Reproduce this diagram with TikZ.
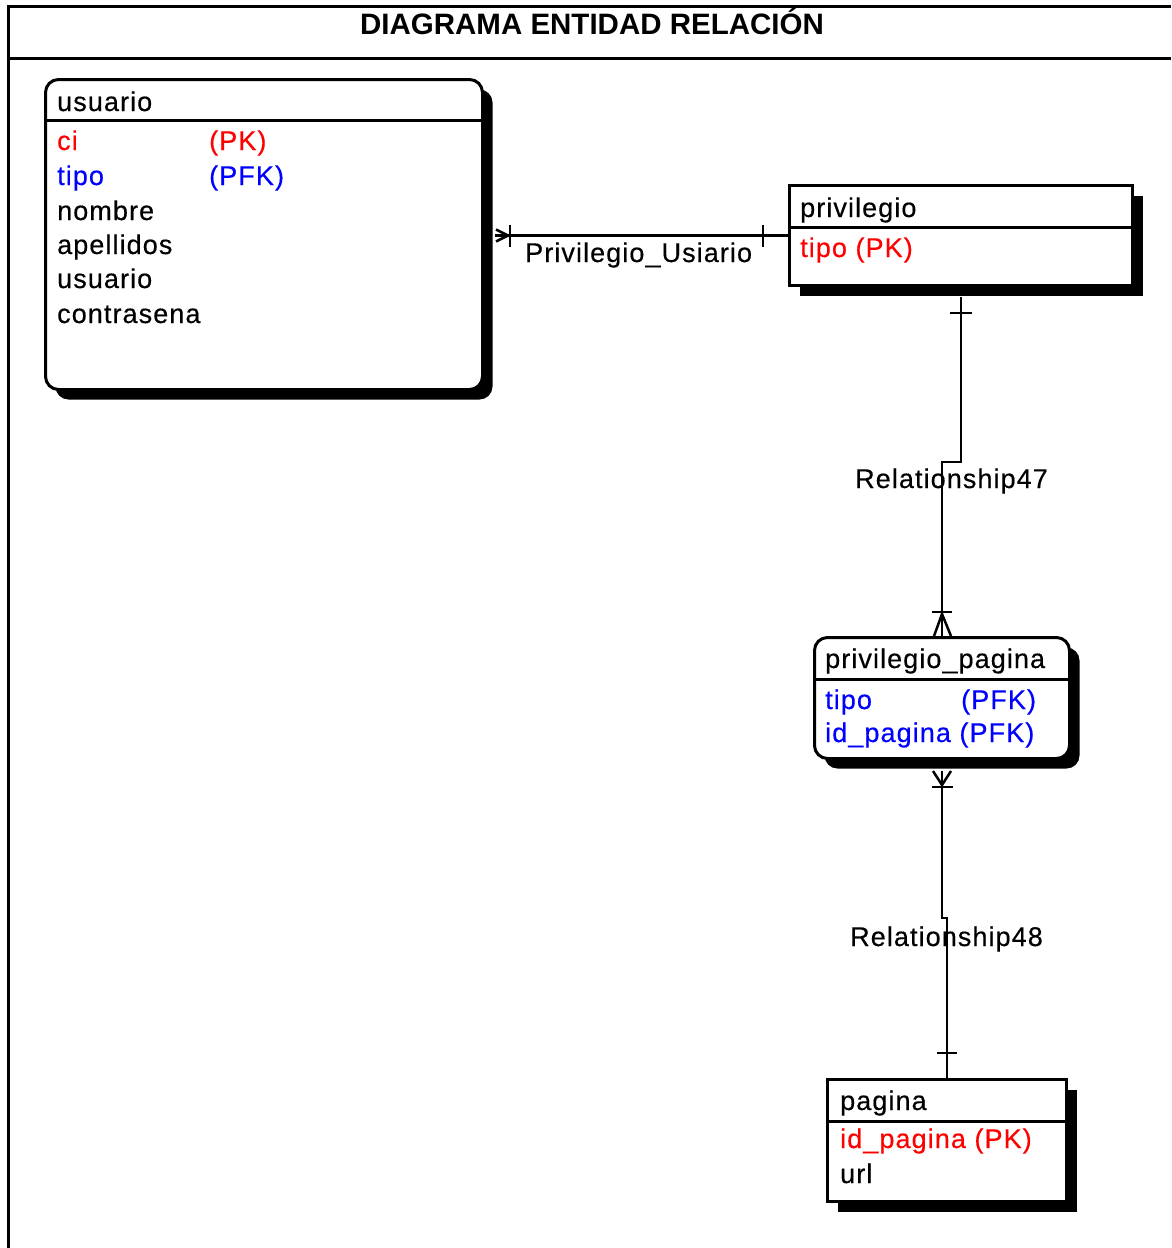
\documentclass[tikz,border=0pt]{standalone}
\usepackage{fontspec}
\setmainfont{Liberation Sans}
\newfontfamily\erfont[LetterSpace=4,FakeBold=0.4]{Liberation Sans}
\usetikzlibrary{calc,shadows}
\definecolor{pkred}{RGB}{255,0,0}
\definecolor{fkblue}{RGB}{0,0,255}
\begin{document}
\begin{tikzpicture}[x=1pt,y=-1pt,
  entity/.style={draw, line width=3pt, fill=white, inner sep=0pt, anchor=north west,
    drop shadow={shadow xshift=10pt, shadow yshift=-10pt, fill=black, opacity=1}},
  roundentity/.style={entity, rounded corners=13pt},
  sep/.style={line width=3pt},
  attr/.style={anchor=base west, inner sep=0pt, font=\erfont\fontsize{27}{32}\selectfont},
  pk/.style={attr, text=pkred},
  fk/.style={attr, text=fkblue},
  rel/.style={line width=2.5pt},
  frame/.style={line width=3pt}]
\useasboundingbox (0,0) rectangle (1171,1248);

% outer frame and title row
\coordinate (ftl) at (8,6);
\coordinate (ftr) at (1171,6);
\coordinate (fsl) at (8,58);
\coordinate (fsr) at (1171,58);
\coordinate (fbl) at (8,1248);
\draw[frame] (ftr) -- (ftl) -- (fbl);
\draw[frame] (fsl) -- (fsr);
\node[anchor=base, inner sep=0pt, font=\bfseries\fontsize{29.5}{34}\selectfont] (title) at (592,34) {DIAGRAMA ENTIDAD RELACIÓN};

% entity: usuario
\node[roundentity, minimum width=437pt, minimum height=310pt] (usuario) at (44,78) {};
\draw[sep] (44,120) coordinate (usl) -- (481,120) coordinate (usr);
\node[attr] (u0) at (57,111) {usuario};
\node[pk] (u1) at (57,150) {ci};
\node[pk] (u1k) at (209,150) {(PK)};
\node[fk] (u2) at (57,185) {tipo};
\node[fk] (u2k) at (209,185) {(PFK)};
\node[attr] (u3) at (57,220) {nombre};
\node[attr] (u4) at (57,254) {apellidos};
\node[attr] (u5) at (57,288) {usuario};
\node[attr] (u6) at (57,323) {contrasena};

% entity: privilegio
\node[entity, minimum width=343pt, minimum height=100pt] (privilegio) at (788,184) {};
\draw[sep] (788,227) coordinate (psl) -- (1131,227) coordinate (psr);
\node[attr] (p0) at (800,217) {privilegio};
\node[pk] (p1) at (800,257) {tipo (PK)};

% entity: privilegio_pagina
\node[roundentity, minimum width=255pt, minimum height=121pt] (privpag) at (813,636) {};
\draw[sep] (813,679) coordinate (ppsl) -- (1068,679) coordinate (ppsr);
\node[attr] (pp0) at (825,668) {privilegio\_pagina};
\node[fk] (pp1) at (825,709) {tipo};
\node[fk] (pp1k) at (961,709) {(PFK)};
\node[fk] (pp2) at (825,742) {id\_pagina (PFK)};

% entity: pagina
\node[entity, minimum width=239pt, minimum height=122pt] (pagina) at (826,1078) {};
\draw[sep] (826,1121) coordinate (gsl) -- (1065,1121) coordinate (gsr);
\node[attr] (g0) at (840,1110) {pagina};
\node[pk] (g1) at (840,1148) {id\_pagina (PK)};
\node[attr] (g2) at (840,1183) {url};

% relationship: Privilegio_Usiario (usuario many -- privilegio one)
\coordinate (r1a) at ($(usuario.east)+(11,1)$);
\coordinate (r1b) at (privilegio.west);
\draw[rel] (r1a) -- (r1b);
\draw[rel] ($(r1a)+(1,-6)$) -- ($(r1a)+(13,0)$) -- ($(r1a)+(1,6)$);
\draw[rel] ($(r1a)+(15,-11)$) -- ($(r1a)+(15,11)$);
\draw[rel] ($(r1b)+(-25,-11)$) -- ($(r1b)+(-25,11)$);
\node[attr] (l1) at (525,262) {Privilegio\_Usiario};

% relationship: Relationship47 (privilegio one -- privilegio_pagina many)
\coordinate (r2a) at ($(privilegio.south)+(0,10)$);
\coordinate (r2b) at (privpag.north);
\draw[rel] (r2a) -- ($(r2a|-0,462)$) -- ($(r2b|-0,462)$) -- (r2b);
\draw[rel] ($(r2a)+(-11,16)$) -- ($(r2a)+(11,16)$);
\draw[rel] ($(r2b)+(-10,-24)$) -- ($(r2b)+(10,-24)$);
\draw[rel] ($(r2b)+(-8,0)$) -- ($(r2b)+(0,-22)$) -- ($(r2b)+(9,0)$);
\node[attr] (l2) at (855,488) {Relationship47};

% relationship: Relationship48 (privilegio_pagina many -- pagina one)
\coordinate (r3a) at ($(privpag.south)+(0,11)$);
\coordinate (r3b) at (pagina.north);
\draw[rel] (r3a) -- ($(r3a|-0,918)$) -- ($(r3b|-0,918)$) -- (r3b);
\draw[rel] ($(r3a)+(-9,0)$) -- ($(r3a)+(0,14)$) -- ($(r3a)+(9,0)$);
\draw[rel] ($(r3a)+(-10,16)$) -- ($(r3a)+(11,16)$);
\draw[rel] ($(r3b)+(-10,-25)$) -- ($(r3b)+(10,-25)$);
\node[attr] (l3) at (850,946) {Relationship48};
\end{tikzpicture}
\end{document}
